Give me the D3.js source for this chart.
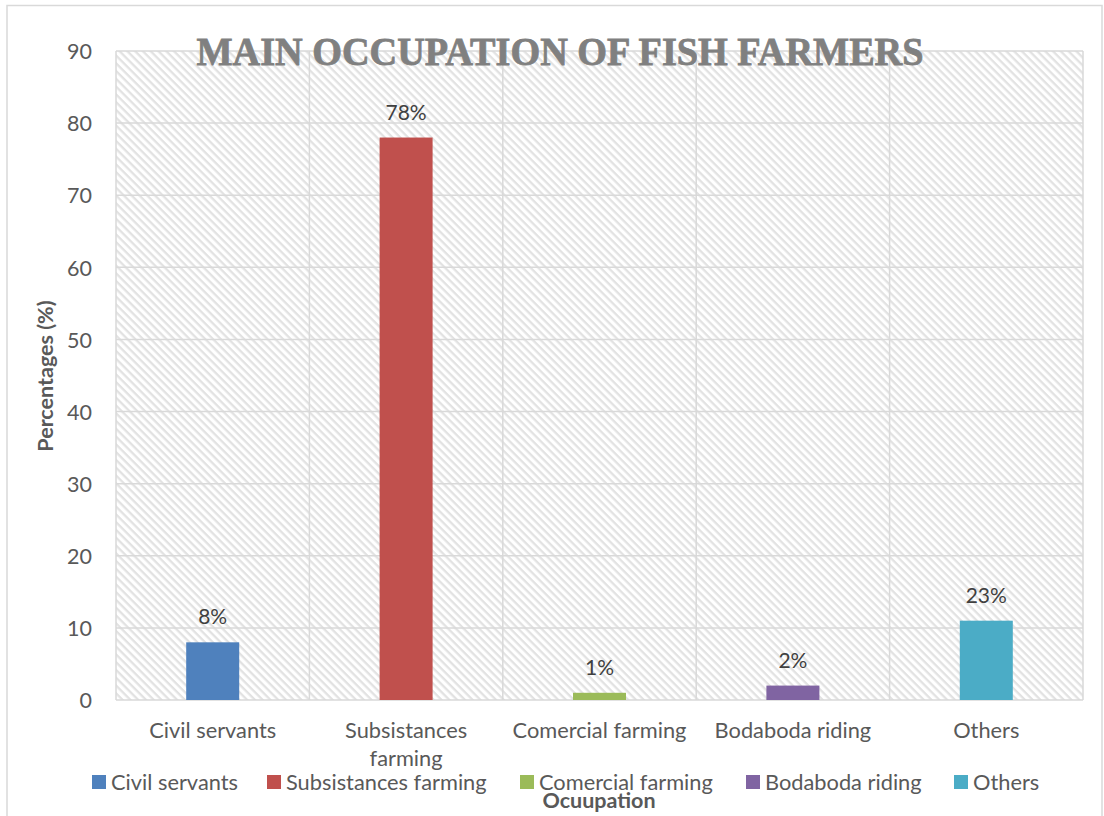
<!DOCTYPE html>
<html><head><meta charset="utf-8">
<script src="https://cdn.jsdelivr.net/npm/d3@7"></script>
<style>body{margin:0;background:#fff;} svg{display:block;}</style>
</head><body>
<svg id="chart" width="1104" height="816"></svg>
<script>
const categories = ["Civil servants", "Subsistances farming", "Comercial farming", "Bodaboda riding", "Others"];
const values = [8, 78, 1, 2, 11];
const labels = ["8%", "78%", "1%", "2%", "23%"];
const colors = ["#4F81BD", "#C0504D", "#9BBB59", "#8064A2", "#4BACC6"];
const yTicks = [0, 10, 20, 30, 40, 50, 60, 70, 80, 90];
const axisLines = {"Subsistances farming": ["Subsistances", "farming"]};

const svg = d3.select("#chart");
const font = "Lato, 'Open Sans', sans-serif";
const textColor = "#595959";

// outer border
svg.append("rect").attr("x", 7).attr("y", 5.5).attr("width", 1095).attr("height", 820)
  .attr("fill", "#fff").attr("stroke", "#d9d9d9").attr("stroke-width", 1.5);

const m = {left: 116, right: 1083, top: 51, bottom: 700};
const x = d3.scaleBand().domain(categories).range([m.left, m.right]).paddingInner(0).paddingOuter(0);
const y = d3.scaleLinear().domain([0, 90]).range([m.bottom, m.top]);

// hatch pattern
const defs = svg.append("defs");
const pat = defs.append("pattern").attr("id", "hatch").attr("patternUnits", "userSpaceOnUse")
  .attr("width", 5.5).attr("height", 5.5).attr("patternTransform", "rotate(45)");
pat.append("rect").attr("width", 5.5).attr("height", 5.5).attr("fill", "#fff");
pat.append("rect").attr("x", 0).attr("y", 0).attr("width", 5.5).attr("height", 2.3).attr("fill", "#e2e2e2");

svg.append("rect").attr("x", m.left).attr("y", m.top).attr("width", m.right - m.left).attr("height", m.bottom - m.top)
  .attr("fill", "url(#hatch)");

// horizontal gridlines
svg.append("g").selectAll("line").data(yTicks).join("line")
  .attr("x1", m.left).attr("x2", m.right)
  .attr("y1", d => y(d)).attr("y2", d => y(d))
  .attr("stroke", "#d9d9d9").attr("stroke-width", 1.5);

// vertical gridlines at category boundaries
const bounds = categories.map(c => x(c)).concat([m.right]);
svg.append("g").selectAll("line").data(bounds).join("line")
  .attr("x1", d => d).attr("x2", d => d)
  .attr("y1", m.top).attr("y2", m.bottom)
  .attr("stroke", "#d9d9d9").attr("stroke-width", 1.5);

// y axis labels
const yAxis = svg.append("g").attr("transform", `translate(${m.left - 24},0)`)
  .call(d3.axisLeft(y).tickValues(yTicks).tickSize(0).tickPadding(0));
yAxis.select(".domain").remove();
yAxis.selectAll("text").attr("font-family", font).attr("font-size", 21.5).attr("fill", textColor)
  .attr("dy", "0.36em");

// title
svg.append("text").attr("x", 560).attr("y", 65).attr("text-anchor", "middle")
  .attr("font-family", "'Liberation Serif', 'DejaVu Serif', serif").attr("font-weight", "bold")
  .attr("font-size", 40).attr("fill", "#808080")
  .attr("stroke", "#808080").attr("stroke-width", 0.8)
  .attr("textLength", 727).attr("lengthAdjust", "spacingAndGlyphs")
  .text("MAIN OCCUPATION OF FISH FARMERS");

// bars
const barW = 53;
svg.append("g").selectAll("rect").data(categories).join("rect")
  .attr("x", d => x(d) + x.bandwidth() / 2 - barW / 2)
  .attr("width", barW)
  .attr("y", (d, i) => y(values[i]))
  .attr("height", (d, i) => y(0) - y(values[i]))
  .attr("fill", (d, i) => colors[i]);

// data labels
svg.append("g").selectAll("text").data(categories).join("text")
  .attr("x", d => x(d) + x.bandwidth() / 2)
  .attr("y", (d, i) => y(values[i]) - 18)
  .attr("text-anchor", "middle").attr("font-family", font).attr("font-size", 21).attr("fill", "#404040")
  .text((d, i) => labels[i]);

// x axis labels
const xg = svg.append("g").attr("transform", `translate(0,${m.bottom})`)
  .call(d3.axisBottom(x).tickSize(0).tickFormat(""));
xg.select(".domain").remove();
categories.forEach(c => {
  const lines = axisLines[c] || [c];
  const t = svg.append("text").attr("x", x(c) + x.bandwidth() / 2).attr("y", 738)
    .attr("text-anchor", "middle").attr("font-family", font).attr("font-size", 21.8).attr("fill", textColor);
  lines.forEach((l, i) => t.append("tspan").attr("x", x(c) + x.bandwidth() / 2).attr("dy", i ? 28 : 0).text(l));
});

// y axis title
svg.append("text").attr("transform", "translate(53,376) rotate(-90)").attr("text-anchor", "middle")
  .attr("font-family", font).attr("font-weight", "bold").attr("font-size", 21.5).attr("fill", textColor)
  .text("Percentages (%)");

// legend
const legendX = [92, 267, 520, 746, 954];
const lg = svg.append("g").selectAll("g").data(categories).join("g")
  .attr("transform", (d, i) => `translate(${legendX[i]},775)`);
lg.append("rect").attr("width", 14).attr("height", 14).attr("fill", (d, i) => colors[i]);
lg.append("text").attr("x", 19).attr("y", 15).attr("font-family", font).attr("font-size", 21.8).attr("fill", textColor)
  .text(d => d);

// x axis title
svg.append("text").attr("x", 599).attr("y", 808).attr("text-anchor", "middle")
  .attr("font-family", font).attr("font-weight", "bold").attr("font-size", 21.5).attr("fill", textColor)
  .text("Ocuupation");
</script>
</body></html>
